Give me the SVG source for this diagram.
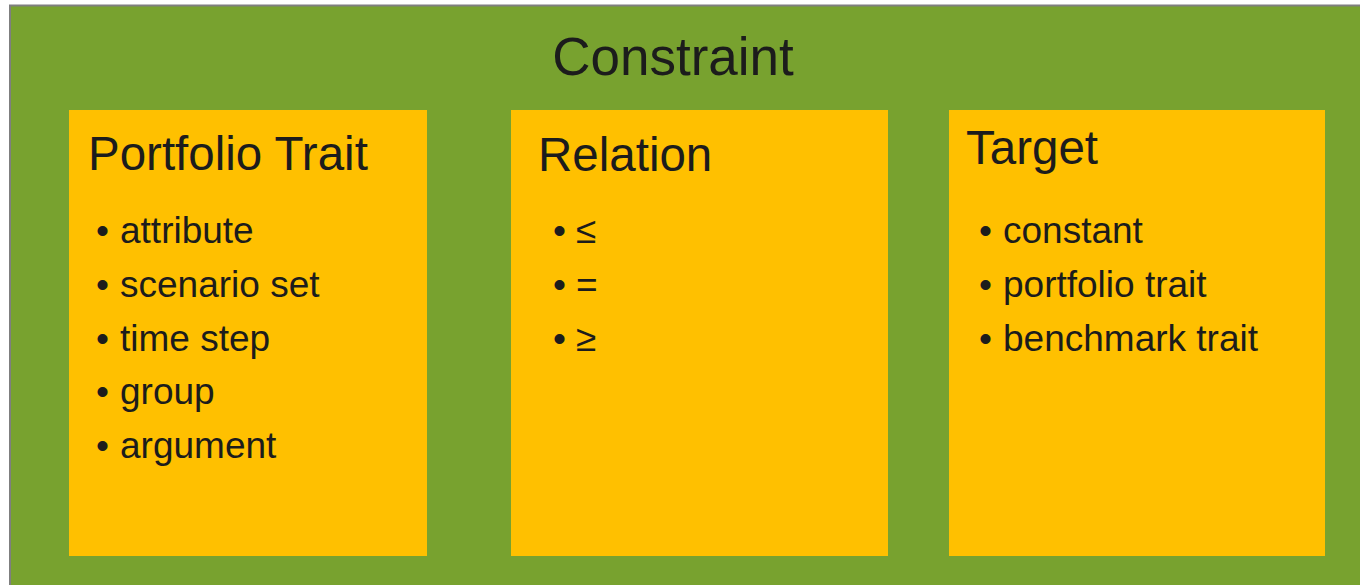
<svg xmlns="http://www.w3.org/2000/svg" width="1360" height="585" viewBox="0 0 1360 585">
<style>
text{font-family:"Liberation Sans",Arial,sans-serif;fill:#1c1c1c}
.t{font-size:53px}
.h{font-size:47.5px}
.b{font-size:37px}
.box{fill:#FFC000}
</style>
<rect x="0" y="0" width="1360" height="585" fill="#ffffff"/>
<g id="constraint">
<rect x="10" y="5.5" width="1360" height="600" fill="#78A22F" stroke="#7f7f7f" stroke-width="2"/>
<text class="t" x="673" y="75" text-anchor="middle">Constraint</text>
</g>
<g id="portfolio-trait">
<rect class="box" x="69" y="110" width="358" height="446"/>
<text class="h" x="88" y="170">Portfolio Trait</text>
<text class="b" x="96" y="243">•</text><text class="b" x="120" y="243">attribute</text>
<text class="b" x="96" y="297">•</text><text class="b" x="120" y="297">scenario set</text>
<text class="b" x="96" y="351">•</text><text class="b" x="120" y="351">time step</text>
<text class="b" x="96" y="404">•</text><text class="b" x="120" y="404">group</text>
<text class="b" x="96" y="458">•</text><text class="b" x="120" y="458">argument</text>
</g>
<g id="relation">
<rect class="box" x="511" y="110" width="377" height="446"/>
<text class="h" x="538" y="171">Relation</text>
<text class="b" x="553" y="243">•</text><text class="b" x="576" y="243">≤</text>
<text class="b" x="553" y="297">•</text><text class="b" x="576" y="297">=</text>
<text class="b" x="553" y="351">•</text><text class="b" x="576" y="351">≥</text>
</g>
<g id="target">
<rect class="box" x="949" y="110" width="376" height="446"/>
<text class="h" x="966" y="164">Target</text>
<text class="b" x="979" y="243">•</text><text class="b" x="1003" y="243">constant</text>
<text class="b" x="979" y="297">•</text><text class="b" x="1003" y="297">portfolio trait</text>
<text class="b" x="979" y="351">•</text><text class="b" x="1003" y="351">benchmark trait</text>
</g>
<g id="connectors"></g>
</svg>
